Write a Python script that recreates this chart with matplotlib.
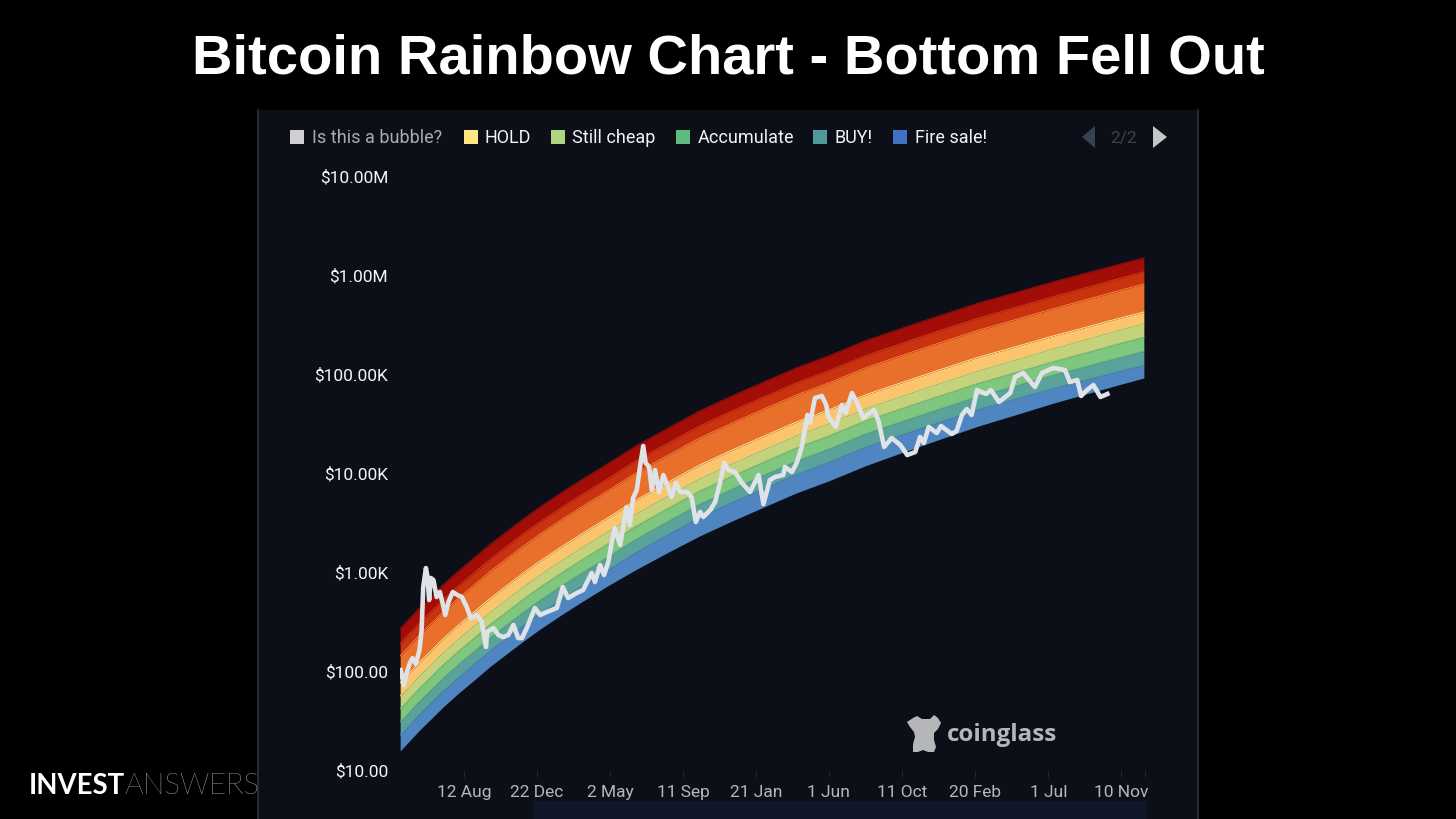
import matplotlib
matplotlib.use("Agg")
import matplotlib.pyplot as plt
from matplotlib.patches import Polygon, Rectangle

# decimal years (tick dates are 497 days apart)
tick_years = [2014.61, 2015.97, 2017.33, 2018.70, 2020.06, 2021.41, 2022.78, 2024.14, 2025.50, 2026.86, 2027.31]
tick_labels = ["12 Aug", "22 Dec", "2 May", "11 Sep", "21 Jan", "1 Jun", "11 Oct", "20 Feb", "1 Jul", "10 Nov", ""]
y_ticks = [10, 100, 1000, 10000, 100000, 1000000, 10000000]
y_labels = ["$10.00", "$100.00", "$1.00K", "$10.00K", "$100.00K", "$1.00M", "$10.00M"]

band_years = [2013.42, 2013.61, 2013.8, 2014.0, 2014.2, 2014.5, 2014.8, 2015.1, 2015.4, 2015.7, 2016.0,
              2016.4, 2016.8, 2017.3, 2017.8, 2018.4, 2019.0, 2019.6, 2020.2, 2020.8, 2021.4,
              2022.1, 2022.8, 2023.5, 2024.2, 2024.9, 2025.6, 2026.2, 2026.8, 2027.04, 2027.28]
edge_bottom = [15.6, 20.1, 25.9, 33.0, 42.3, 59.3, 81.1, 111.5, 148.6, 197.7, 259,
               362, 498, 731, 1047, 1567, 2312, 3266, 4539, 6281, 8299,
               11880, 16300, 22130, 29850, 38900, 50900, 62800, 77500, 83950, 91200]
edge_blue = [22.6, 29.1, 37.6, 47.9, 61.3, 86, 118, 162, 215, 287, 376,
             525, 722, 1060, 1570, 2382, 3584, 5062, 7040, 9736, 12860,
             18410, 24780, 33200, 44180, 56400, 72280, 87300, 106200, 114200, 123100]
edge_teal = [30.6, 39.4, 50.8, 64.7, 82.9, 116, 159, 219, 291, 387, 508,
             710, 976, 1433, 2125, 3228, 4855, 6859, 9530, 13190, 17430,
             24950, 33580, 44920, 59700, 76240, 98240, 119300, 145700, 157000, 170500]
edge_green = [41.5, 53.5, 68.9, 87.8, 113, 158, 216, 297, 395, 526, 689,
              963, 1325, 1944, 2880, 4372, 6589, 9308, 12940, 17900, 23650,
              33860, 45480, 60860, 80890, 103900, 133900, 163900, 201500, 217400, 236200]
edge_lgreen = [56, 72.2, 93, 118, 152, 213, 291, 400, 533, 710, 930,
               1300, 1788, 2624, 3895, 5908, 8878, 12540, 17430, 24120, 31870,
               45620, 61450, 82320, 109300, 140800, 183200, 226100, 279000, 302200, 328300]
edge_yellow = [75.8, 97.7, 126, 160, 206, 288, 394, 542, 722, 961, 1259,
               1759, 2420, 3553, 5266, 7992, 12020, 16980, 23600, 32660, 43150,
               61780, 83130, 111300, 148100, 189100, 243300, 296400, 362700, 391200, 423200]
edge_orange = [142, 183, 236, 300, 385, 540, 738, 1015, 1352, 1799, 2357,
               3294, 4532, 6652, 9860, 14980, 22520, 31810, 44210, 61180, 80830,
               115700, 155800, 208500, 277000, 355500, 458100, 562100, 689800, 747200, 811700]
edge_dorange = [188, 242, 312, 398, 510, 715, 977, 1344, 1791, 2382, 3121,
                4362, 6001, 8809, 13090, 19820, 29820, 42130, 58550, 81020, 107100,
                153300, 206200, 276600, 367200, 470700, 605700, 744200, 914500, 990600, 1076000]
edge_top = [267, 344, 443, 564, 723, 1014, 1387, 1907, 2541, 3381, 4429,
            6190, 8516, 12500, 18530, 28130, 42310, 59770, 83060, 114900, 151900,
            217400, 292600, 391700, 520600, 665200, 855100, 1042000, 1271000, 1373000, 1487000]

price_years = [2013.43, 2013.49, 2013.54, 2013.60, 2013.65, 2013.71, 2013.78, 2013.82, 2013.85, 2013.90,
               2013.93, 2013.96, 2013.99, 2014.04, 2014.10, 2014.16, 2014.21, 2014.26, 2014.32, 2014.40,
               2014.485, 2014.57, 2014.66, 2014.735, 2014.85, 2014.94, 2015.02, 2015.04, 2015.16, 2015.25,
               2015.34, 2015.435, 2015.53, 2015.62, 2015.69, 2015.78, 2015.84, 2015.93, 2016.03, 2016.15,
               2016.34, 2016.40, 2016.45, 2016.55, 2016.71, 2016.83, 2016.99, 2017.05, 2017.145, 2017.22,
               2017.30, 2017.36, 2017.42, 2017.52, 2017.64, 2017.70, 2017.76, 2017.83, 2017.89, 2017.95,
               2017.996, 2018.06, 2018.11, 2018.17, 2018.245, 2018.325, 2018.48, 2018.56, 2018.64, 2018.76,
               2018.85, 2018.93, 2019.01, 2019.07, 2019.20, 2019.29, 2019.38, 2019.46, 2019.54, 2019.66,
               2019.79, 2019.94, 2020.10, 2020.19, 2020.31, 2020.41, 2020.56, 2020.59, 2020.72, 2020.81,
               2020.905, 2021.01, 2021.06, 2021.15, 2021.28, 2021.36, 2021.40, 2021.54, 2021.65, 2021.72,
               2021.84, 2021.93, 2022.05, 2022.25, 2022.33, 2022.44, 2022.58, 2022.74, 2022.87, 2023.02,
               2023.11, 2023.18, 2023.27, 2023.42, 2023.50, 2023.70, 2023.79, 2023.89, 2023.98, 2024.07,
               2024.17, 2024.34, 2024.43, 2024.58, 2024.79, 2024.88, 2025.03, 2025.25, 2025.38, 2025.59,
               2025.81, 2025.90, 2026.04, 2026.11, 2026.22, 2026.34, 2026.47, 2026.60]
price_values = [102, 72, 95, 120, 135, 118, 163, 259, 705, 1097,
                890, 521, 870, 830, 559, 628, 486, 368, 498, 628,
                586, 559, 443, 343, 368, 313, 175, 248, 272, 231,
                220, 231, 292, 215, 215, 272, 327, 433, 368, 394,
                433, 559, 705, 546, 614, 658, 977, 793, 1178, 933,
                1262, 1963, 2780, 1875, 4539, 2985, 5585, 6730, 11510, 18750,
                12620, 11510, 6730, 10720, 6430, 9550, 5730, 7930, 6430, 6430,
                5730, 3200, 4040, 3600, 4230, 5090, 7930, 12620, 10720, 10230,
                7930, 6430, 9550, 4860, 8490, 9120, 9550, 11510, 10230, 12620,
                18320, 38550, 32000, 57280, 59980, 48640, 36810, 29170, 48640, 40360,
                64270, 52120, 35970, 43250, 34280, 18320, 22590, 19190, 15200, 16300,
                23120, 20090, 29170, 25350, 29850, 24770, 26550, 38550, 44260, 38550,
                68870, 62800, 68870, 52120, 64270, 93300, 102300, 73960, 102300, 115100,
                109600, 83000, 86900, 59980, 68870, 77450, 58600, 62800]

legend_names = ["Is this a bubble?", "HOLD", "Still cheap", "Accumulate", "BUY!", "Fire sale!"]
legend_colors = ["#cfcfd1", "#ffe680", "#aed581", "#5fba7d", "#4f9a9a", "#3f72c4"]
legend_box_x = [297, 471, 558, 683, 820, 900]
legend_text_x = [312, 485, 572, 698, 835, 915]

edges = [edge_bottom, edge_blue, edge_teal, edge_green, edge_lgreen, edge_yellow, edge_orange, edge_dorange, edge_top]
band_colors = ["#4f86c2", "#5aa39a", "#7fc77f", "#c5d27c", "#fcc56d", "#e9702b", "#c9330f", "#a30d08"]
# the thin line on the top edge of each band
line_colors = ["#4f90ae", "#5cae8c", "#78c07a", "#cfd67e", "#ffe597", "#ff8238", "#d93c14", "#a30d08"]

plt.rcParams["font.family"] = ["Roboto", "DejaVu Sans"]
W, H = 1456, 819
fig = plt.figure(figsize=(W / 100, H / 100), dpi=100, facecolor="black")

# everything around the chart, in picture pixels
bg = fig.add_axes([0, 0, 1, 1], zorder=0)
bg.set_xlim(0, W)
bg.set_ylim(H, 0)
bg.axis("off")
bg.add_patch(Rectangle((258, 110), 940, 709, fc="#0c0f17", ec="none"))
bg.plot([258, 258], [110, 819], color="#2e343c", lw=1.2)
bg.plot([1198, 1198], [110, 819], color="#2e343c", lw=1.2)
bg.add_patch(Rectangle((533, 801), 614, 18, fc="#10162a", ec="none"))

bg.text(728.5, 59, "Bitcoin Rainbow Chart - Bottom Fell Out", color="white", fontsize=40.4,
        fontweight="bold", family="Liberation Sans", ha="center", va="center")

for i, name in enumerate(legend_names):
    bg.add_patch(Rectangle((legend_box_x[i] - 7, 130), 14, 14, fc=legend_colors[i], ec="none"))
    bg.text(legend_text_x[i], 138, name, color="#a8acb2" if i == 0 else "#f2f3f4", fontsize=13,
            ha="left", va="center")

bg.add_patch(Polygon([(1095, 126), (1095, 148), (1082, 137)], fc="#34444f", ec="none"))
bg.add_patch(Polygon([(1153, 126), (1153, 148), (1167, 137)], fc="#c4c6c8", ec="none"))
bg.text(1124, 138, "2/2", color="#3b444c", fontsize=12.5, ha="center", va="center")

# coinglass logo
logo = [(907, 722), (913, 718), (917, 716), (922, 719), (930, 719), (934, 715), (938, 718), (941, 723),
        (938, 729), (934, 733), (934, 740), (936, 747), (934, 752), (928, 752), (923, 750), (918, 752),
        (913, 752), (913, 744), (915, 737), (914, 732), (910, 727)]
bg.add_patch(Polygon(logo, fc="#b4b6b8", ec="none"))
bg.text(947, 735, "coinglass", color="#b4b6b8", fontsize=17.4, fontweight="bold",
        family="Open Sans", ha="left", va="center")

bg.text(29, 786, "INVEST", color="white", fontsize=19.8, fontweight="bold", family="Lato", ha="left", va="center")
bg.text(124, 786, "ANSWERS", color="white", fontsize=21.1, fontweight="light", family="Lato", ha="left", va="center")

# chart: x=400..1146 px, y=176..770 px
ax = fig.add_axes([400 / W, (H - 770) / H, 746 / W, 594 / H], zorder=1)
ax.patch.set_alpha(0)
for i in range(8):
    ax.fill_between(band_years, edges[i], edges[i + 1], color=band_colors[i], lw=0)
    ax.plot(band_years, edges[i + 1], color=line_colors[i], lw=0.7)
ax.plot(price_years, price_values, color="#dfe2e7", lw=3.3, solid_joinstyle="round")

ax.set_yscale("log")
ax.set_ylim(10, 10000000)
ax.set_xlim(2013.417, 2027.32)
ax.set_yticks(y_ticks)
ax.set_yticklabels(y_labels)
ax.minorticks_off()
ax.set_xticks(tick_years)
ax.set_xticklabels(tick_labels)
ax.tick_params(axis="y", length=0, pad=8.5, labelcolor="#f4f5f6", labelsize=12.5)
ax.tick_params(axis="x", length=5, width=0.7, color="#23282f", pad=5.7, labelcolor="#b4b7bc", labelsize=12.5)
for s in ax.spines.values():
    s.set_visible(False)

fig.savefig("out.png", dpi=100, facecolor="black")
